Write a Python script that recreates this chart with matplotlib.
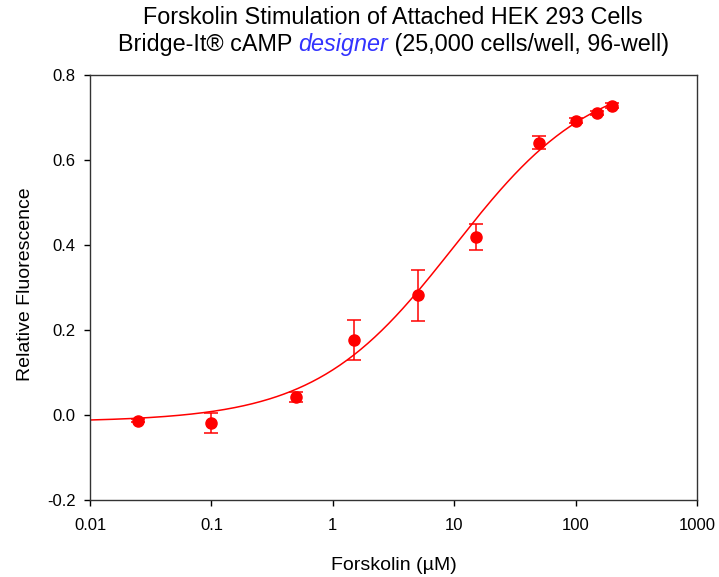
import matplotlib
matplotlib.use("Agg")
import matplotlib.pyplot as plt
import numpy as np
from matplotlib.ticker import FixedLocator, FixedFormatter, NullLocator

# measured points (forskolin uM, relative fluorescence, error)
conc = [0.025, 0.1, 0.5, 1.5, 5, 15, 50, 100, 150, 200]
signal = [-0.013, -0.019, 0.042, 0.176, 0.282, 0.419, 0.641, 0.692, 0.711, 0.728]
err = [0.004, 0.024, 0.011, 0.047, 0.060, 0.031, 0.016, 0.006, 0.005, 0.005]

# 4-parameter logistic fit
fit_bottom = -0.016
fit_top = 0.81
fit_ec50 = 10.0
fit_hill = 0.76

x_ticks = [0.01, 0.1, 1, 10, 100, 1000]
x_tick_labels = ["0.01", "0.1", "1", "10", "100", "1000"]
y_ticks = [-0.2, 0.0, 0.2, 0.4, 0.6, 0.8]
y_tick_labels = ["-0.2", "0.0", "0.2", "0.4", "0.6", "0.8"]

plt.rcParams["font.family"] = ["Liberation Sans", "DejaVu Sans"]

fig = plt.figure(figsize=(7.19, 5.77), dpi=100)
ax = fig.add_axes([0.1252, 0.1334, 0.8442, 0.7366])

x_fit = np.logspace(np.log10(0.01), np.log10(max(conc)), 300)
y_fit = fit_bottom + (fit_top - fit_bottom) / (1 + (fit_ec50 / x_fit) ** fit_hill)
ax.plot(x_fit, y_fit, color="red", linewidth=1.1)

ax.errorbar(
    conc, signal, yerr=err, fmt="o", color="red", markersize=8,
    elinewidth=1.1, capsize=5, capthick=1.1,
)

ax.set_xscale("log")
ax.set_xlim(0.01, 1000)
ax.set_ylim(-0.2, 0.8)
ax.xaxis.set_major_locator(FixedLocator(x_ticks))
ax.xaxis.set_major_formatter(FixedFormatter(x_tick_labels))
ax.xaxis.set_minor_locator(NullLocator())
ax.yaxis.set_major_locator(FixedLocator(y_ticks))
ax.yaxis.set_major_formatter(FixedFormatter(y_tick_labels))
ax.tick_params(direction="out", length=4.5, width=1, labelsize=12,
               top=False, right=False)
ax.tick_params(axis="x", pad=8.5)
ax.tick_params(axis="y", pad=6)
for s in ax.spines.values():
    s.set_linewidth(1.0)
    s.set_color("#333333")

ax.set_xlabel("Forskolin (\u00b5M)", fontsize=14)
ax.set_ylabel("Relative Fluorescence", fontsize=14)
ax.xaxis.set_label_coords(0.5, -0.134)
ax.yaxis.set_label_coords(-0.092, 0.508)

# title, two lines, second one with a coloured word
cx = 0.547
fig.text(cx, 1 - 17 / 577, "Forskolin Stimulation of Attached HEK 293 Cells",
         ha="center", va="center", fontsize=16.8)

parts = [
    ("Bridge-It\u00ae cAMP ", "black", "normal"),
    ("designer", "#3333ff", "italic"),
    (" (25,000 cells/well, 96-well)", "black", "normal"),
]
renderer = fig.canvas.get_renderer()
y2 = 1 - 45 / 577
texts = []
for txt, col, sty in parts:
    t = fig.text(0, y2, txt, ha="left", va="center", fontsize=16.8,
                 color=col, style=sty)
    texts.append(t)
widths = [t.get_window_extent(renderer).width / fig.bbox.width for t in texts]
x0 = cx - sum(widths) / 2
for t, w in zip(texts, widths):
    t.set_x(x0)
    x0 += w

fig.savefig("out.png", dpi=100)
